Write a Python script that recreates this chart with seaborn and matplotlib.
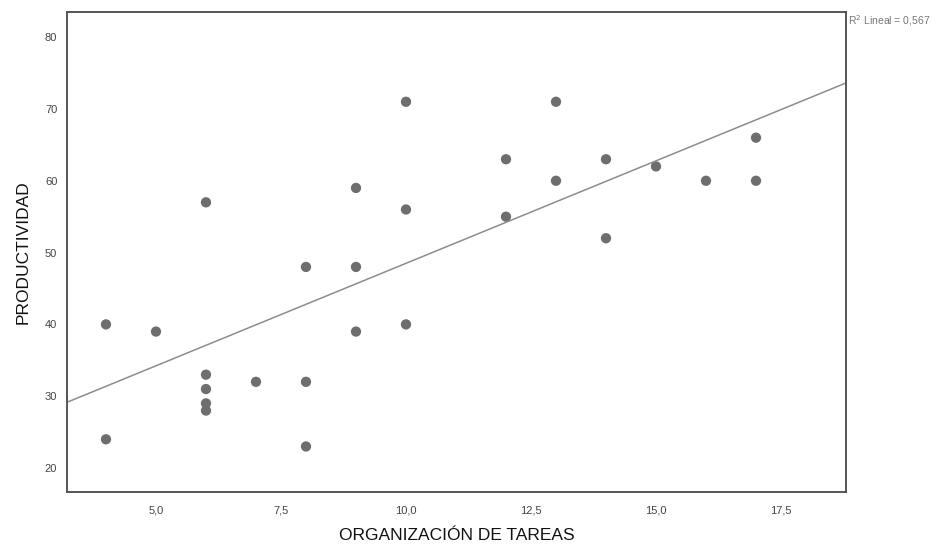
import numpy as np
import pandas as pd
import matplotlib
matplotlib.use("Agg")
import matplotlib.pyplot as plt
import seaborn as sns

# DATA
organizacion = [4, 4, 5, 6, 6, 6, 6, 6, 7, 8, 8, 8, 9, 9, 9, 10, 10, 10,
                12, 12, 13, 13, 14, 14, 15, 16, 17, 17]
productividad = [40, 24, 39, 57, 33, 31, 29, 28, 32, 48, 32, 23, 59, 48, 39, 71, 56, 40,
                 63, 55, 71, 60, 63, 52, 62, 60, 66, 60]
x_ticks = [5.0, 7.5, 10.0, 12.5, 15.0, 17.5]
y_ticks = [20, 30, 40, 50, 60, 70, 80]

df = pd.DataFrame({"ORGANIZACIÓN DE TAREAS": organizacion,
                   "PRODUCTIVIDAD": productividad})

sns.set_style("white")
plt.rcParams["font.family"] = ["Liberation Sans Narrow", "Liberation Sans", "DejaVu Sans"]

fig = plt.figure(figsize=(9.46, 5.46), dpi=100)
ax = fig.add_axes([0.0708, 0.0989, 0.8235, 0.8791])
# limits first so the fit line spans the whole frame
ax.set_xlim(3.22, 18.8)
ax.set_ylim(16.66, 83.5)

sns.regplot(data=df, x="ORGANIZACIÓN DE TAREAS", y="PRODUCTIVIDAD", ax=ax,
            ci=None, truncate=False,
            scatter_kws={"s": 55, "color": "#6e6e6e", "alpha": 1, "edgecolor": "none"},
            line_kws={"color": "#8c8c8c", "linewidth": 1.1})

ax.set_xlim(3.22, 18.8)
ax.set_ylim(16.66, 83.5)
ax.set_xticks(x_ticks)
ax.set_xticklabels([f"{t:.1f}".replace(".", ",") for t in x_ticks])
ax.set_yticks(y_ticks)
ax.tick_params(axis="both", length=0, labelsize=8, colors="#444444")
ax.tick_params(axis="x", pad=10)
ax.tick_params(axis="y", pad=7)

for s in ax.spines.values():
    s.set_color("#555555")
    s.set_linewidth(1.4)

ax.set_xlabel("ORGANIZACIÓN DE TAREAS", fontsize=12.5, color="#111111",
              family=["Liberation Sans", "DejaVu Sans"], labelpad=9)
ax.set_ylabel("PRODUCTIVIDAD", fontsize=12.5, color="#111111",
              family=["Liberation Sans", "DejaVu Sans"], labelpad=10)

fig.text(0.8965, 0.963, "R$^2$ Lineal = 0,567", fontsize=7.5, color="#777777",
         ha="left", va="center")

fig.savefig("out.png", dpi=100)
